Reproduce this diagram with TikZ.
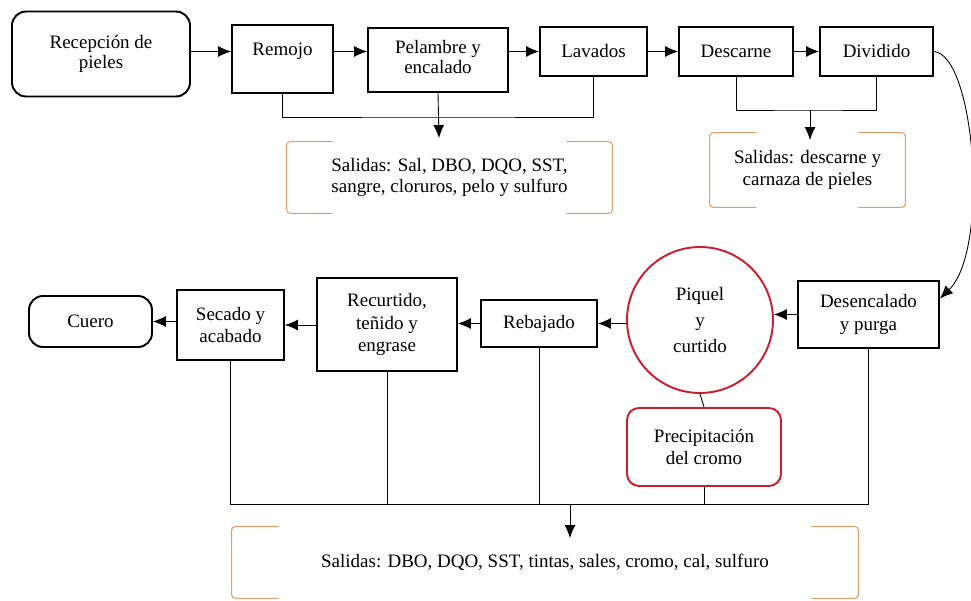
\documentclass[tikz,border=0pt]{standalone}
\usepackage{fontspec}
\setmainfont{Liberation Serif}
\usepackage{xcolor}
\usepackage{tikz}
\usetikzlibrary{arrows.meta}

\definecolor{cromored}{RGB}{200,30,45}
\definecolor{bracketorange}{RGB}{222,158,108}

\begin{document}
\begin{tikzpicture}[
      x=0.02cm, y=-0.02cm, >={Latex[length=2.6mm,width=2.2mm]},
      every node/.style={font=\fontsize{10.8}{13}\selectfont},
      proc/.style={draw,rectangle,line width=1.1pt,inner sep=0pt,align=center},
      ends/.style={proc,rounded corners=0.28cm},
      drum/.style={draw=cromored,circle,line width=1.1pt,inner sep=0pt,align=center,
                   minimum size=2.92cm,font=\fontsize{10.8}{15}\selectfont},
      chrome/.style={draw=cromored,rectangle,rounded corners=0.24cm,line width=1.1pt,
                     inner sep=0pt,align=center},
      outs/.style={rectangle,inner sep=0pt,align=center,font=\fontsize{10.8}{12.3}\selectfont},
      brk/.style={draw=bracketorange,line width=0.6pt,rounded corners=2pt},
      flow/.style={->,line width=0.5pt},
      line/.style={line width=0.5pt}
  ]
      \useasboundingbox (0,0) rectangle (971,601);

      % fila superior
      \node[ends,minimum width=3.56cm,minimum height=1.70cm,font=\fontsize{10.8}{11.5}\selectfont]
           (recep) at (101,54) {Recepción de\\pieles};
      \node[proc,minimum width=2.02cm,minimum height=1.36cm,text depth=0.40cm]
           (remojo) at (282.5,59) {Remojo};
      \node[proc,minimum width=2.80cm,minimum height=1.28cm,text height=0.56cm,
            font=\fontsize{10.8}{11.5}\selectfont]
           (pelambre) at (438,60) {Pelambre y\\encalado};
      \node[proc,minimum width=2.14cm,minimum height=0.98cm] (lavados) at (593.5,51.5) {Lavados};
      \node[proc,minimum width=2.28cm,minimum height=0.98cm] (descarne) at (736,51.5) {Descarne};
      \node[proc,minimum width=2.26cm,minimum height=0.98cm] (dividido) at (876.5,51.5) {Dividido};

      % salidas superiores
      \node[outs,minimum width=6.50cm,minimum height=1.42cm] (out1) at (449.5,177.5)
           {Salidas: Sal, DBO, DQO, SST,\\sangre, cloruros, pelo y sulfuro};
      \node[outs,minimum width=3.90cm,minimum height=1.48cm] (out2) at (807.5,170)
           {Salidas: descarne y\\carnaza de pieles};

      % fila inferior
      \node[proc,minimum width=2.82cm,minimum height=1.34cm] (desenc) at (868.5,314.5)
           {Desencalado\\y purga};
      \node[drum] (piquel) at (700,320) {Piquel\\y\\curtido};
      \node[chrome,minimum width=3.08cm,minimum height=1.56cm] (precip) at (704,447)
           {Precipitación\\del cromo};
      \node[proc,minimum width=2.32cm,minimum height=0.94cm] (rebaj) at (539,323.5) {Rebajado};
      \node[proc,minimum width=2.80cm,minimum height=1.86cm] (recurt) at (387,324.5)
           {Recurtido,\\teñido y\\engrase};
      \node[proc,minimum width=2.14cm,minimum height=1.40cm] (secado) at (230.5,325)
           {Secado y\\acabado};
      \node[ends,minimum width=2.46cm,minimum height=1.02cm] (cuero) at (90.5,321.5) {Cuero};

      % salida inferior
      \node[outs,minimum width=12.52cm,minimum height=1.42cm] (out3) at (545,562.5)
           {Salidas: DBO, DQO, SST, tintas, sales, cromo, cal, sulfuro};

      % puntos de union
      \coordinate (j1) at (439,117);
      \coordinate (t1) at (439,138);
      \coordinate (j2) at (810,110);
      \coordinate (t2) at (810,140);
      \coordinate (j3) at (570,504);
      \coordinate (t3) at (570,538);

      % flechas del proceso
      \draw[flow] (recep.east |- lavados) -- (remojo.west |- lavados);
      \draw[flow] (remojo.east |- lavados) -- (pelambre.west |- lavados);
      \draw[flow] (pelambre.east |- lavados) -- (lavados.west);
      \draw[flow] (lavados.east) -- (descarne.west);
      \draw[flow] (descarne.east) -- (dividido.west);
      \draw[flow] (dividido.east) .. controls (975,55) and (990,250) .. ([yshift=0.32cm]desenc.east);
      \draw[flow] (desenc.west) -- (piquel.east |- desenc.west);
      \draw[flow] (piquel.west |- rebaj) -- (rebaj.east);
      \draw[flow] (rebaj.west) -- (rebaj.west -| recurt.east);
      \draw[flow] (recurt.west |- secado) -- (secado.east);
      \draw[flow] (secado.west |- cuero) -- (cuero.east);

      % salidas
      \draw[line] (remojo.south) |- (j1) -| (lavados.south);
      \draw[flow] (pelambre.south) -- (t1);
      \draw[line] (descarne.south) |- (j2) -| (dividido.south);
      \draw[flow] (j2) -- (t2);
      \draw[line] (secado.south) |- (desenc.south |- j3) -- (desenc.south);
      \draw[line] (recurt.south) -- (recurt.south |- j3);
      \draw[line] (rebaj.south) -- (rebaj.south |- j3);
      \draw[line] (precip.south) -- (precip.south |- j3);
      \draw[line] (piquel.south) -- (precip.north);
      \draw[flow] (j3) -- (t3);

      % corchetes
      \foreach \o/\w in {out1/0.92cm, out2/0.94cm, out3/0.94cm} {
        \draw[brk] ([xshift=\w]\o.north west) -- (\o.north west) -- (\o.south west) -- ([xshift=\w]\o.south west);
        \draw[brk] ([xshift=-\w]\o.north east) -- (\o.north east) -- (\o.south east) -- ([xshift=-\w]\o.south east);
      }
  \end{tikzpicture}
\end{document}
